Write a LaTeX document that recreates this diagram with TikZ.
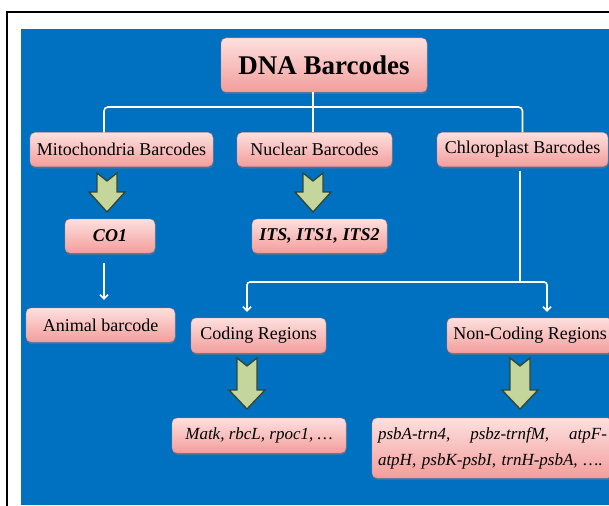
\documentclass[tikz,border=0pt]{standalone}
\usepackage{fontspec}
\setmainfont{Liberation Serif}
\usetikzlibrary{arrows.meta,shadows}

\definecolor{slideblue}{RGB}{0,112,192}
\definecolor{boxtop}{RGB}{252,224,222}
\definecolor{boxbot}{RGB}{243,158,156}
\definecolor{boxline}{RGB}{222,134,134}
\definecolor{fatfill}{RGB}{196,214,155}
\definecolor{fatline}{RGB}{52,70,48}

\newcommand{\fatarrow}[3]{%
  \begin{scope}[shift={(#1)}]
    \draw[fatarr] (-10,0) -- (0,8) -- (10,0) -- (10,#2) -- (18,#2) -- (0,#3)
      -- (-18,#2) -- (-10,#2) -- cycle;
  \end{scope}}

\begin{document}
\begin{tikzpicture}[x=1pt,y=-1pt,
  box/.style={draw=boxline,top color=boxtop,bottom color=boxbot,rounded corners=5pt,
    drop shadow={shadow xshift=0.6pt,shadow yshift=-2pt,opacity=0.45},
    minimum height=34pt,inner sep=0pt,text=black,font=\fontsize{18}{20}\selectfont},
  genebox/.style={box,font=\fontsize{17}{26}\selectfont\itshape},
  link/.style={white,line width=1.6pt},
  tip/.style={-{Straight Barb[length=4pt,width=8pt]}},
  fatarr/.style={fill=fatfill,draw=fatline,line width=1.3pt,line join=miter}]

  \useasboundingbox (0,0) rectangle (609,505);
  \draw[line width=1.8pt] (7,12) rectangle (630,530);
  \fill[slideblue] (21,29) rectangle (609,505);

  \node[box,minimum width=206pt,minimum height=54pt,
    font=\fontsize{27}{30}\selectfont\bfseries] (dna) at (324,65) {DNA Barcodes};
  \node[box,minimum width=183pt] (mito) at (121.5,149.5) {Mitochondria Barcodes};
  \node[box,minimum width=155pt] (nuc) at (314.5,149.5) {Nuclear Barcodes};
  \node[box,minimum width=171pt] (chloro) at (522.5,149.5) {Chloroplast Barcodes};
  \node[box,minimum width=90pt,font=\fontsize{18}{20}\selectfont\bfseries\itshape]
    (co1) at (110,236) {CO1};
  \node[box,minimum width=135pt,font=\fontsize{18}{20}\selectfont\bfseries\itshape]
    (its) at (319.5,236) {ITS, ITS1, ITS2};
  \node[box,minimum width=149pt] (animal) at (100.5,325) {Animal barcode};
  \node[box,minimum width=135pt,minimum height=35pt] (coding) at (258.5,335.5) {Coding Regions};
  \node[box,minimum width=166pt,minimum height=35pt] (noncoding) at (530,335.5) {Non-Coding Regions};
  \node[genebox,minimum width=174pt,minimum height=35pt] (genes) at (259,435.5)
    {Matk, rbcL, rpoc1, \dots};
  \node[genebox,minimum width=241pt,minimum height=60pt,text width=229pt,align=left]
    (spacers) at (492.5,448)
    {psbA-trn4,\hfill psbz-trnfM,\hfill atpF-\\atpH, psbK-psbI, trnH-psbA, \dots.};

  \coordinate (hub) at (313,107);
  \coordinate (drop) at (104,0);
  \coordinate (split) at (520,282);
  \draw[link] (dna.south -| hub) -- (nuc.north -| hub);
  \draw[link,rounded corners=4pt] ([xshift=-17.5pt]mito.north) |- (hub) -| (chloro.north);
  \draw[link,tip,shorten <=10pt,shorten >=8pt] (co1.south -| drop) -- (animal.north -| drop);
  \draw[link] (chloro.south -| split) ++(0,4) -- (split);
  \draw[link,tip,rounded corners=3pt,shorten >=6pt] (split) -| ([xshift=-11.5pt]coding.north);
  \draw[link,tip,rounded corners=3pt,shorten >=6pt] (split) -| ([xshift=17pt]noncoding.north);

  \coordinate (f1) at (107,173);
  \coordinate (f2) at (313,173);
  \coordinate (f3) at (247,358);
  \coordinate (f4) at (520,358);
  \fatarrow{f1}{19}{39}
  \fatarrow{f2}{19}{39}
  \fatarrow{f3}{32}{51}
  \fatarrow{f4}{32}{51}
\end{tikzpicture}
\end{document}
